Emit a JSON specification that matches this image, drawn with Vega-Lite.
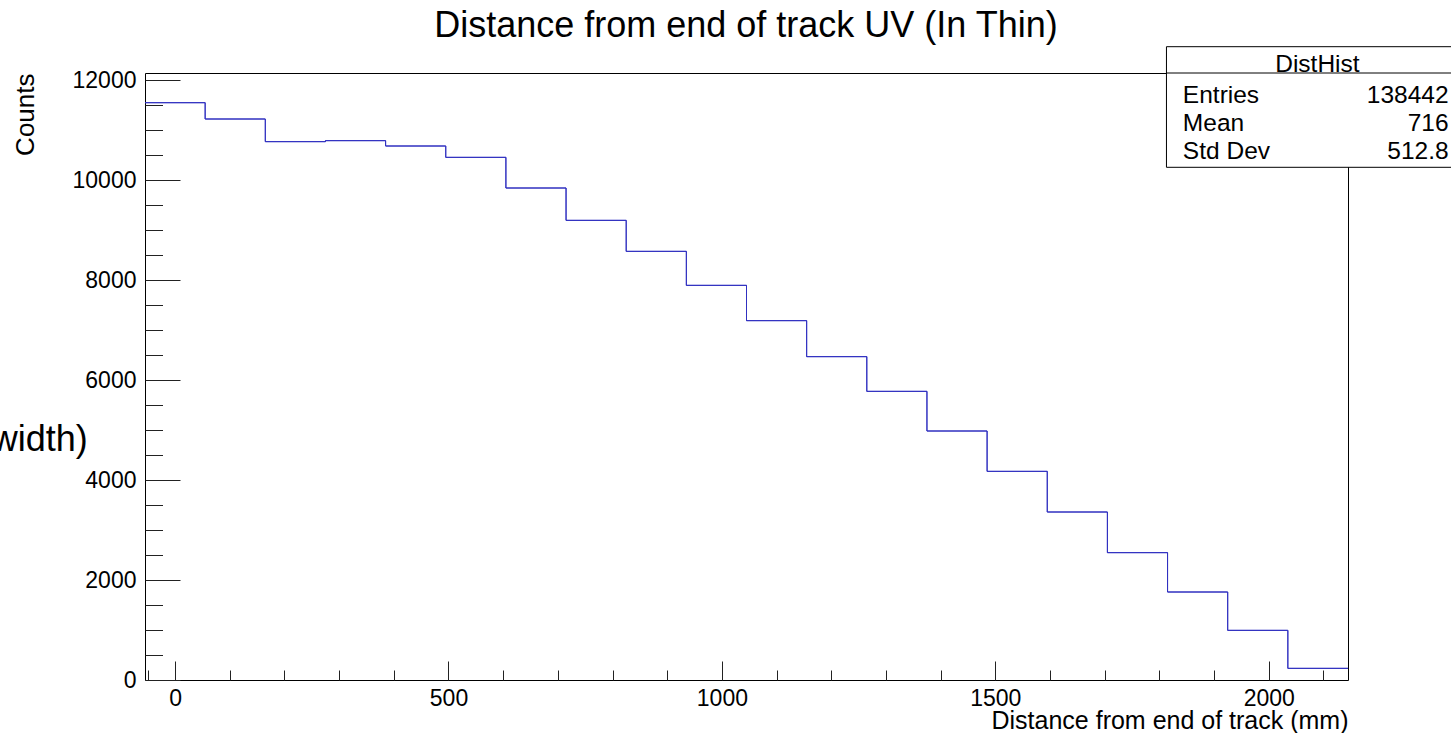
{
  "$schema": "https://vega.github.io/schema/vega-lite/v6.json",
  "autosize": {"type": "none"},
  "width": 1203,
  "height": 607,
  "padding": {"left": 145, "top": 73, "right": 103, "bottom": 53},
  "background": "white",
  "config": {
    "view": {"stroke": "black", "strokeWidth": 1},
    "axis": {"labelFont": "Liberation Sans", "titleFont": "Liberation Sans", "labelColor": "black", "titleColor": "black", "tickColor": "#222", "grid": false, "domain": false, "titleFontWeight": "normal"},
    "text": {"font": "Liberation Sans", "color": "black"}
  },
  "datasets": {
    "hist": [
      {"lo": -55, "count": 11546}, {"lo": 55, "count": 11220}, {"lo": 165, "count": 10767},
      {"lo": 275, "count": 10787}, {"lo": 385, "count": 10680}, {"lo": 495, "count": 10453},
      {"lo": 605, "count": 9840}, {"lo": 715, "count": 9193}, {"lo": 825, "count": 8573},
      {"lo": 935, "count": 7893}, {"lo": 1045, "count": 7187}, {"lo": 1155, "count": 6467},
      {"lo": 1265, "count": 5773}, {"lo": 1375, "count": 4980}, {"lo": 1485, "count": 4173},
      {"lo": 1595, "count": 3360}, {"lo": 1705, "count": 2547}, {"lo": 1815, "count": 1760},
      {"lo": 1925, "count": 993}, {"lo": 2035, "count": 233}, {"lo": 2145, "count": 233}
    ],
    "box": [{"bx1": 1813, "bx2": 2420, "by1": 10254, "by2": 12666}],
    "hdr": [{"hx1": 1813, "hx2": 2420, "hy": 12140}],
    "ttl": [{"t": "Distance from end of track UV (In Thin)", "tx": 1044, "ty": 12860}],
    "stitle": [{"t": "DistHist", "tx": 2089, "ty": 12166}],
    "slabels": [
      {"t": "Entries", "tx": 1843, "ty": 11546},
      {"t": "Mean", "tx": 1843, "ty": 10986},
      {"t": "Std Dev", "tx": 1843, "ty": 10420}
    ],
    "svalues": [
      {"t": "138442", "tx": 2329, "ty": 11546},
      {"t": "716", "tx": 2329, "ty": 10986},
      {"t": "512.8", "tx": 2329, "ty": 10420}
    ],
    "side": [{"t": "width)", "tx": -159.6, "ty": 4580}]
  },
  "resolve": {"axis": {"x": "independent", "y": "independent"}},
  "layer": [
    {
      "data": {"name": "hist"},
      "mark": {"type": "line", "interpolate": "step-after", "color": "#3030c0", "strokeWidth": 1},
      "encoding": {
        "x": {
          "field": "lo", "type": "quantitative",
          "scale": {"domain": [-55, 2145], "nice": false, "zero": false},
          "axis": {
            "orient": "bottom",
            "values": [0, 500, 1000, 1500, 2000],
            "format": "d",
            "tickSize": -19,
            "labelPadding": 26,
            "labelFontSize": 23,
            "labelBaseline": "top",
            "title": "Distance from end of track (mm)",
            "titleFontSize": 25,
            "titleAnchor": "end",
            "titleAlign": "right",
            "titleBaseline": "alphabetic",
            "titleX": 1203,
            "titleY": 48
          }
        },
        "y": {
          "field": "count", "type": "quantitative",
          "scale": {"domain": [0, 12140], "nice": false, "zero": true},
          "axis": {
            "orient": "left",
            "values": [0, 2000, 4000, 6000, 8000, 10000, 12000],
            "format": "d",
            "tickSize": -35,
            "labelPadding": 44,
            "labelFontSize": 23,
            "title": "Counts",
            "titleFontSize": 26,
            "titleAngle": -90,
            "titleAlign": "right",
            "titleBaseline": "alphabetic",
            "titleX": -112,
            "titleY": 0
          }
        }
      }
    },
    {
      "data": {"name": "hist"},
      "mark": {"type": "line", "interpolate": "step-after", "color": "#3030c0", "strokeWidth": 1},
      "encoding": {
        "x": {
          "field": "lo", "type": "quantitative",
          "axis": {
            "orient": "bottom",
            "values": [-50, 100, 200, 300, 400, 600, 700, 800, 900, 1100, 1200, 1300, 1400, 1600, 1700, 1800, 1900, 2100],
            "tickSize": -10,
            "labels": false,
            "title": null
          }
        },
        "y": {
          "field": "count", "type": "quantitative",
          "axis": {
            "orient": "left",
            "values": [500, 1000, 1500, 2500, 3000, 3500, 4500, 5000, 5500, 6500, 7000, 7500, 8500, 9000, 9500, 10500, 11000, 11500],
            "tickSize": -17.5,
            "labels": false,
            "title": null
          }
        }
      }
    },
    {
      "data": {"name": "box"},
      "mark": {"type": "rect", "fill": "white", "stroke": "black", "strokeWidth": 1},
      "encoding": {
        "x": {"field": "bx1", "type": "quantitative", "axis": null},
        "x2": {"field": "bx2"},
        "y": {"field": "by1", "type": "quantitative", "axis": null},
        "y2": {"field": "by2"}
      }
    },
    {
      "data": {"name": "hdr"},
      "mark": {"type": "rule", "stroke": "black", "strokeWidth": 1},
      "encoding": {
        "x": {"field": "hx1", "type": "quantitative", "axis": null},
        "x2": {"field": "hx2"},
        "y": {"field": "hy", "type": "quantitative", "axis": null}
      }
    },
    {
      "data": {"name": "ttl"},
      "mark": {"type": "text", "align": "center", "baseline": "alphabetic", "fontSize": 36},
      "encoding": {
        "x": {"field": "tx", "type": "quantitative", "axis": null},
        "y": {"field": "ty", "type": "quantitative", "axis": null},
        "text": {"field": "t"}
      }
    },
    {
      "data": {"name": "stitle"},
      "mark": {"type": "text", "align": "center", "baseline": "alphabetic", "fontSize": 24.5},
      "encoding": {
        "x": {"field": "tx", "type": "quantitative", "axis": null},
        "y": {"field": "ty", "type": "quantitative", "axis": null},
        "text": {"field": "t"}
      }
    },
    {
      "data": {"name": "slabels"},
      "mark": {"type": "text", "align": "left", "baseline": "alphabetic", "fontSize": 24.5},
      "encoding": {
        "x": {"field": "tx", "type": "quantitative", "axis": null},
        "y": {"field": "ty", "type": "quantitative", "axis": null},
        "text": {"field": "t"}
      }
    },
    {
      "data": {"name": "svalues"},
      "mark": {"type": "text", "align": "right", "baseline": "alphabetic", "fontSize": 24.5},
      "encoding": {
        "x": {"field": "tx", "type": "quantitative", "axis": null},
        "y": {"field": "ty", "type": "quantitative", "axis": null},
        "text": {"field": "t"}
      }
    },
    {
      "data": {"name": "side"},
      "mark": {"type": "text", "align": "right", "baseline": "alphabetic", "fontSize": 36},
      "encoding": {
        "x": {"field": "tx", "type": "quantitative", "axis": null},
        "y": {"field": "ty", "type": "quantitative", "axis": null},
        "text": {"field": "t"}
      }
    }
  ]
}
